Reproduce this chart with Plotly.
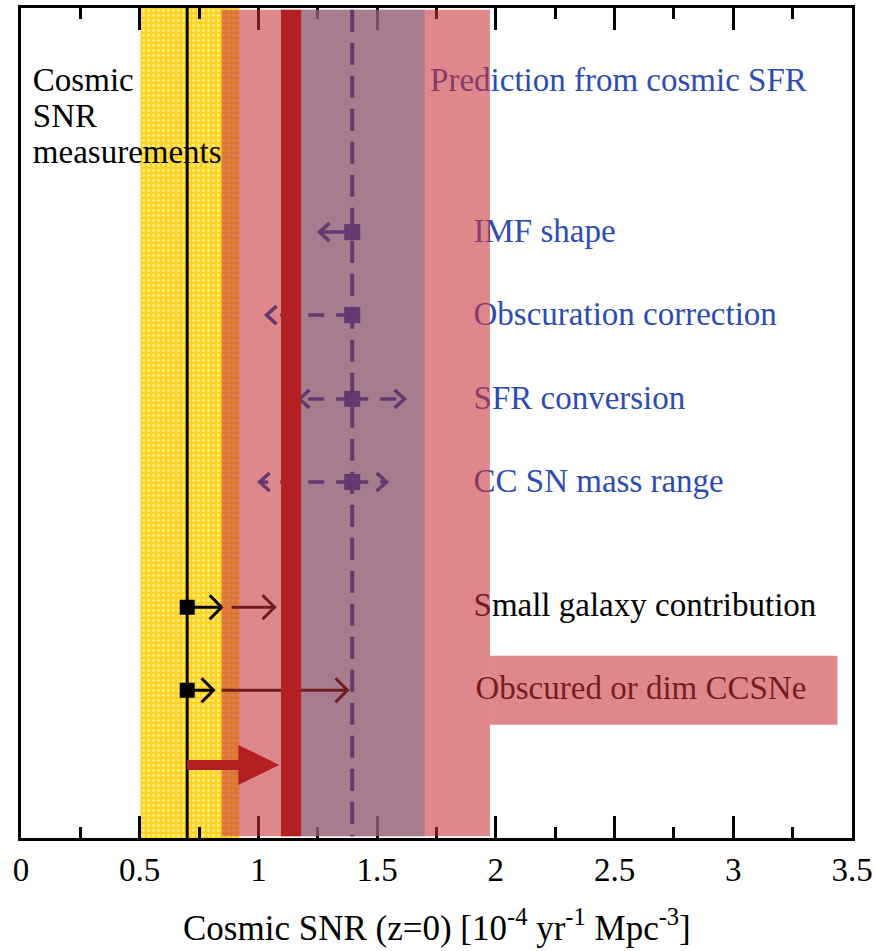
import plotly.graph_objects as go

# ---------------- data ----------------
tick_vals = [0, 0.5, 1, 1.5, 2, 2.5, 3, 3.5]
tick_text = ["0", "0.5", "1", "1.5", "2", "2.5", "3", "3.5"]
x_title = "Cosmic SNR (z=0) [10<sup>-4</sup> yr<sup>-1</sup> Mpc<sup>-3</sup>]"

meas_central = 0.70            # cosmic SNR measurement (black line)
meas_band = [0.503, 0.92]      # yellow band
pred_central = 1.395           # prediction from cosmic SFR (dashed)
pred_band = [1.18, 1.700]      # purple band
total_band = [0.845, 1.975]    # pink band
needed_bar = [1.095, 1.18]     # thick red bar
big_arrow_end = 1.088

syst_labels = ["IMF shape", "Obscuration correction", "SFR conversion", "CC SN mass range"]
syst_rows = [7.30, 6.30, 5.29, 4.29]
syst_lo = [1.257, 1.034, 1.173, 1.005]
syst_hi = [None, None, 1.615, 1.540]
syst_dashed = [False, True, True, True]

corr_labels = ["Small galaxy contribution", "Obscured or dim CCSNe"]
corr_rows = [2.78, 1.78]
corr_step1_end = [0.845, 0.811]
corr_step2_start = [0.887, 0.845]
corr_step2_end = [1.068, 1.375]
big_arrow_row = 0.88

box_right = 3.439

# ---------------- layout geometry ----------------
W, H = 875, 951
ML, MR, MT, MB = 21, 23, 8, 113
XR = [0, 3.5]
YR = [0, 10]
PXX = (W - ML - MR) / (XR[1] - XR[0])
PXY = (H - MT - MB) / (YR[1] - YR[0])

FONT = "Liberation Serif, Times New Roman, serif"
YELLOW = "#FFD31F"
PINK_OV = "rgba(200,50,55,0.58)"
PURP_OV = "rgba(120,114,145,0.55)"
PURPLE = "#65386F"
RED = "#B22023"
MAROON = "#701C1E"
BLUE = "#2D4CB0"

fig = go.Figure()

# yellow measurement band (dotted texture)
fig.add_trace(go.Bar(
    x=[(meas_band[0] + meas_band[1]) / 2], y=[YR[1]], base=[YR[0]],
    width=[meas_band[1] - meas_band[0]],
    marker=dict(color=YELLOW, line=dict(width=0),
                pattern=dict(shape=".", size=5, solidity=0.25,
                             fgcolor="#FFF0A0", bgcolor=YELLOW, fgopacity=0.9)),
    showlegend=False, hoverinfo="skip"))

# black measurement line
fig.add_trace(go.Scatter(x=[meas_central, meas_central], y=YR, mode="lines",
                         line=dict(color="black", width=3), showlegend=False, hoverinfo="skip"))


def chevron(xtip, y, direction, L, Hh):
    dx = L / PXX * direction
    dy = Hh / PXY
    return [xtip - dx, xtip, xtip - dx], [y + dy, y, y - dy]


# black arrows (first step)
ax, ay = [], []
for r, e1 in zip(corr_rows, corr_step1_end):
    ax += [meas_central, e1, None]
    ay += [r, r, None]
    cx, cy = chevron(e1, r, 1, 12, 12)
    ax += cx + [None]
    ay += cy + [None]
fig.add_trace(go.Scatter(x=ax, y=ay, mode="lines", line=dict(color="black", width=3),
                         showlegend=False, hoverinfo="skip"))
fig.add_trace(go.Scatter(x=[meas_central] * len(corr_rows), y=corr_rows, mode="markers",
                         marker=dict(symbol="square", size=15, color="black"),
                         showlegend=False, hoverinfo="skip"))


def add_text(x, y, s, color, size=33):
    fig.add_trace(go.Scatter(x=[x], y=[y], mode="text", text=[s], textposition="middle right",
                             textfont=dict(family=FONT, size=size, color=color),
                             showlegend=False, hoverinfo="skip"))


for s, y in zip(["Cosmic", "SNR", "measurements"], [9.095, 8.665, 8.235]):
    add_text(0.05, y, s, "black")
add_text(1.723, 9.095, "Prediction from cosmic SFR", BLUE)
for s, y in zip(syst_labels, syst_rows):
    add_text(1.906, y - 0.02, s, BLUE)
add_text(1.906, corr_rows[0], corr_labels[0], "black")
add_text(1.914, corr_rows[1], corr_labels[1], "black")

# ---------------- shapes above ----------------
shapes = []
ey = 0.02
shapes.append(dict(type="rect", layer="above", xref="x", yref="y", x0=total_band[0], x1=total_band[1],
                   y0=YR[0] + ey, y1=YR[1] - ey, fillcolor=PINK_OV, line=dict(width=0)))
bh = 0.415
shapes.append(dict(type="rect", layer="above", xref="x", yref="y", x0=total_band[1], x1=box_right,
                   y0=corr_rows[1] - bh, y1=corr_rows[1] + bh, fillcolor=PINK_OV, line=dict(width=0)))
shapes.append(dict(type="rect", layer="above", xref="x", yref="y", x0=pred_band[0], x1=pred_band[1],
                   y0=YR[0] + ey, y1=YR[1] - ey, fillcolor=PURP_OV, line=dict(width=0)))


def path_from(xs, ys):
    return "M" + " L".join(f"{x},{y}" for x, y in zip(xs, ys))


# second-step arrows (appear dark red inside the bands)
for r, s2, e2 in zip(corr_rows, corr_step2_start, corr_step2_end):
    shapes.append(dict(type="line", layer="above", xref="x", yref="y", x0=s2, x1=e2, y0=r, y1=r,
                       line=dict(color=MAROON, width=3)))
    cx, cy = chevron(e2, r, 1, 12, 12)
    shapes.append(dict(type="path", layer="above", xref="x", yref="y", path=path_from(cx, cy),
                       line=dict(color=MAROON, width=3)))

# dashed prediction line
shapes.append(dict(type="line", layer="above", xref="x", yref="y", x0=pred_central, x1=pred_central,
                   y0=YR[1] - ey, y1=YR[0] + ey, line=dict(color=PURPLE, width=4, dash="22px,11px")))

for r, lo, hi, dsh in zip(syst_rows, syst_lo, syst_hi, syst_dashed):
    for tip, d in [(lo, -1), (hi, 1)]:
        if tip is None:
            continue
        shapes.append(dict(type="line", layer="above", xref="x", yref="y", x0=pred_central, x1=tip,
                           y0=r, y1=r, line=dict(color=PURPLE, width=3.5, dash="16px,12px" if dsh else "solid")))
        cx, cy = chevron(tip, r, d, 10, 9)
        shapes.append(dict(type="path", layer="above", xref="x", yref="y", path=path_from(cx, cy),
                           line=dict(color=PURPLE, width=3.5)))
    shapes.append(dict(type="rect", layer="above", xref="x", yref="y", xsizemode="pixel", ysizemode="pixel",
                       xanchor=pred_central, yanchor=r, x0=-8, x1=8, y0=-8, y1=8,
                       fillcolor=PURPLE, line=dict(width=0)))

# thick red bar
shapes.append(dict(type="rect", layer="above", xref="x", yref="y", x0=needed_bar[0], x1=needed_bar[1],
                   y0=YR[0] + ey, y1=YR[1] - ey, fillcolor=RED, line=dict(width=0)))
# big red arrow
head_len = 41 / PXX
head_half = 20 / PXY
shapes.append(dict(type="line", layer="above", xref="x", yref="y", x0=meas_central, x1=big_arrow_end - head_len + 0.01,
                   y0=big_arrow_row, y1=big_arrow_row, line=dict(color=RED, width=10)))
shapes.append(dict(type="path", layer="above", xref="x", yref="y",
                   path=path_from([big_arrow_end - head_len, big_arrow_end, big_arrow_end - head_len],
                                  [big_arrow_row + head_half, big_arrow_row, big_arrow_row - head_half]) + " Z",
                   fillcolor=RED, line=dict(width=0)))

fig.update_layout(
    width=W, height=H, margin=dict(l=ML, r=MR, t=MT, b=MB),
    paper_bgcolor="white", plot_bgcolor="white", shapes=shapes, barmode="overlay",
    font=dict(family=FONT, color="black"),
    xaxis=dict(range=XR, tickvals=tick_vals, ticktext=tick_text, ticks="inside", ticklen=22, tickwidth=3,
               tickcolor="black", showline=True, linewidth=3, linecolor="black", mirror="ticks",
               showgrid=False, zeroline=False, tickfont=dict(family=FONT, size=33, color="black"),
               automargin=False,
               minor=dict(dtick=0.25, tick0=0, ticks="inside", ticklen=11, tickwidth=3, tickcolor="black",
                          showgrid=False)),
    yaxis=dict(range=YR, showticklabels=False, ticks="", showline=True, linewidth=3, linecolor="black",
               mirror=True, showgrid=False, zeroline=False, fixedrange=True, automargin=False),
    annotations=[dict(text=x_title, xref="paper", yref="paper", x=0.5, y=0, xanchor="center",
                      yanchor="middle", yshift=-87, showarrow=False,
                      font=dict(family=FONT, size=35, color="black"))],
)

fig.write_html("out.html")
